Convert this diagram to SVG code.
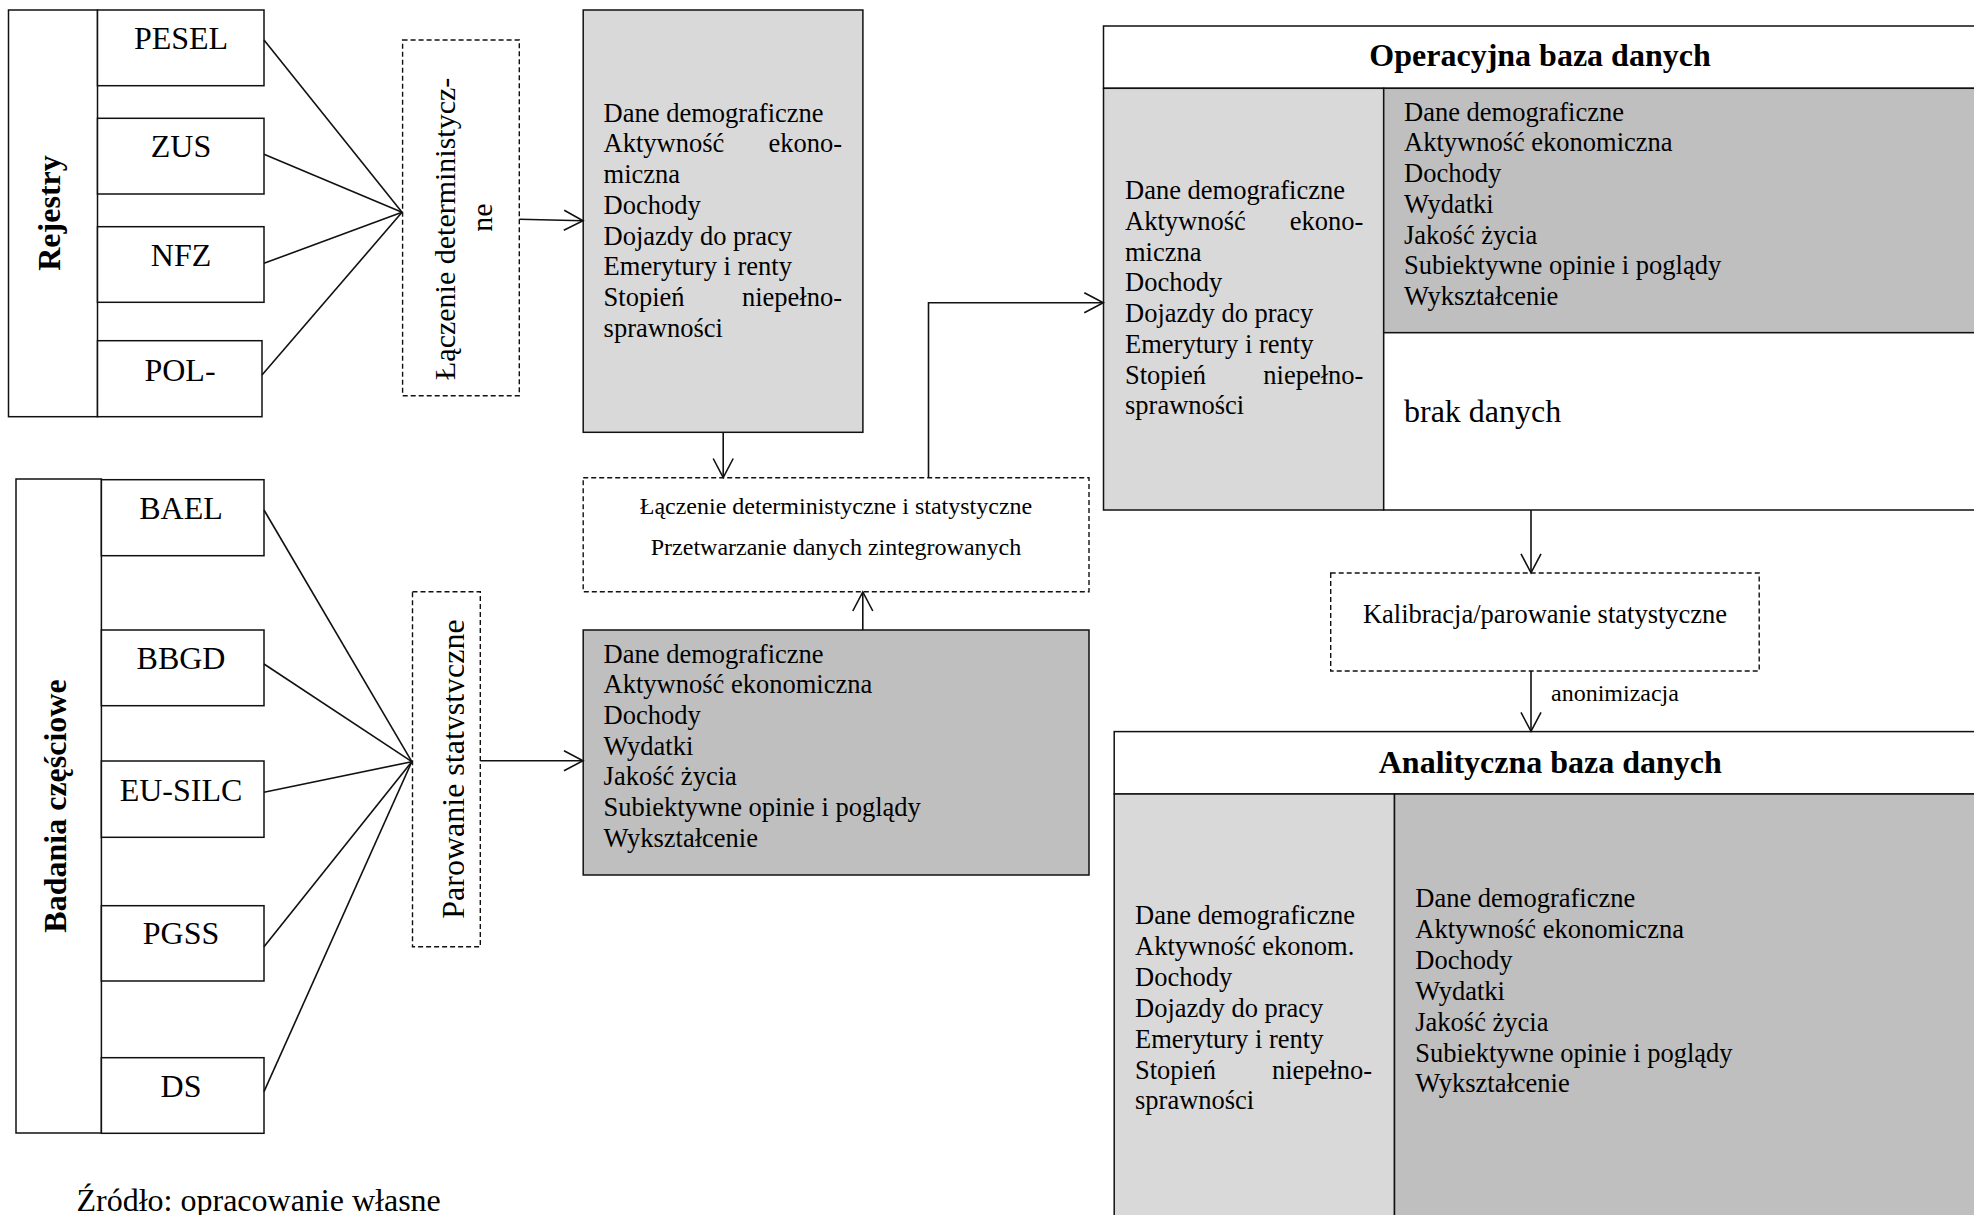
<svg xmlns="http://www.w3.org/2000/svg" width="1974" height="1215" viewBox="0 0 1974 1215">
  <style>
    .t { font-family: "Liberation Serif", "Times New Roman", serif; fill: #000; }
    .src { font-size: 32px; text-anchor: middle; }
    .it { font-size: 26.5px; }
    .b { font-weight: bold; }
    .box { fill: #fff; stroke: #111; stroke-width: 1.5; }
    .lg { fill: #d9d9d9; stroke: #111; stroke-width: 1.5; }
    .dg { fill: #bfbfbf; stroke: #111; stroke-width: 1.5; }
    .dash { fill: #fff; stroke: #111; stroke-width: 1.4; stroke-dasharray: 5 3; }
    .conn { fill: none; stroke: #111; stroke-width: 1.6; }
  </style>
  <defs>
    <marker id="arr" markerUnits="userSpaceOnUse" markerWidth="24" markerHeight="24" refX="20" refY="11" orient="auto">
      <path d="M1,1 L20,11 L1,21" fill="none" stroke="#111" stroke-width="1.6"/>
    </marker>
    <clipPath id="clipPar" clipPathUnits="userSpaceOnUse">
      <rect x="413" y="592" width="51.3" height="354"/>
    </clipPath>
  </defs>
  <rect width="1974" height="1215" fill="#fff"/>

  <!-- Registers -->
  <g id="rejestry">
    <rect class="box" x="8.5" y="10" width="89" height="406.7"/>
    <text class="t b src" transform="translate(60,213) rotate(-90)">Rejestry</text>
  </g>
  <g id="pesel">
    <rect class="box" x="97.5" y="10" width="166.5" height="75.7"/>
    <text class="t src" x="181" y="49.3">PESEL</text>
  </g>
  <g id="zus">
    <rect class="box" x="97.5" y="118.3" width="166.5" height="75.7"/>
    <text class="t src" x="181" y="156.7">ZUS</text>
  </g>
  <g id="nfz">
    <rect class="box" x="97.5" y="226.7" width="166.5" height="75.6"/>
    <text class="t src" x="181" y="265.7">NFZ</text>
  </g>
  <g id="pol">
    <rect class="box" x="97.5" y="340.7" width="164.5" height="76"/>
    <text class="t src" x="180" y="380.7">POL-</text>
  </g>

  <!-- Sample surveys -->
  <g id="badania">
    <rect class="box" x="16" y="479" width="85.4" height="654"/>
    <text class="t b src" transform="translate(66,806) rotate(-90)">Badania częściowe</text>
  </g>
  <g id="bael">
    <rect class="box" x="101.4" y="479.7" width="162.6" height="76"/>
    <text class="t src" x="181" y="519.3">BAEL</text>
  </g>
  <g id="bbgd">
    <rect class="box" x="101.4" y="630" width="162.6" height="75.7"/>
    <text class="t src" x="181" y="669.3">BBGD</text>
  </g>
  <g id="eusilc">
    <rect class="box" x="101.4" y="761" width="162.6" height="76.3"/>
    <text class="t src" x="181" y="800.7">EU-SILC</text>
  </g>
  <g id="pgss">
    <rect class="box" x="101.4" y="905.7" width="162.6" height="75.3"/>
    <text class="t src" x="181" y="944">PGSS</text>
  </g>
  <g id="ds">
    <rect class="box" x="101.4" y="1057.7" width="162.6" height="75.6"/>
    <text class="t src" x="181" y="1096.7">DS</text>
  </g>

  <!-- Processing steps -->
  <g id="laczenie-det">
    <rect class="dash" x="402.6" y="40" width="116.7" height="355.7"/>
    <text class="t" font-size="30" transform="translate(455,380) rotate(-90)">Łączenie deterministycz-</text>
    <text class="t" font-size="30" text-anchor="middle" transform="translate(492,217.5) rotate(-90)">ne</text>
  </g>
  <g id="parowanie">
    <rect class="dash" x="412.5" y="591.7" width="67.8" height="355"/>
    <g clip-path="url(#clipPar)">
      <text class="t src" transform="translate(464,769) rotate(-90)">Parowanie statystyczne</text>
    </g>
  </g>

  <!-- Register-based data -->
  <g id="dane-rejestry">
    <rect class="lg" x="583.2" y="10" width="279.7" height="422.3"/>
    <g class="t it">
      <text x="603.6" y="121.7">Dane demograficzne</text>
      <text x="603.6" y="152.4">Aktywność</text>
      <text x="842" y="152.4" text-anchor="end">ekono-</text>
      <text x="603.6" y="183.1">miczna</text>
      <text x="603.6" y="213.8">Dochody</text>
      <text x="603.6" y="244.5">Dojazdy do pracy</text>
      <text x="603.6" y="275.2">Emerytury i renty</text>
      <text x="603.6" y="305.9">Stopień</text>
      <text x="842" y="305.9" text-anchor="end">niepełno-</text>
      <text x="603.6" y="336.6">sprawności</text>
    </g>
  </g>

  <g id="laczenie-stat">
    <rect class="dash" x="583.2" y="477.7" width="505.8" height="114"/>
    <text class="t" font-size="24" text-anchor="middle" x="836" y="514">Łączenie deterministyczne i statystyczne</text>
    <text class="t" font-size="24" text-anchor="middle" x="836" y="555">Przetwarzanie danych zintegrowanych</text>
  </g>

  <!-- Survey-based data -->
  <g id="dane-badania">
    <rect class="dg" x="583.2" y="630" width="505.8" height="245"/>
    <g class="t it">
      <text x="603.6" y="662.5">Dane demograficzne</text>
      <text x="603.6" y="693.2">Aktywność ekonomiczna</text>
      <text x="603.6" y="723.9">Dochody</text>
      <text x="603.6" y="754.6">Wydatki</text>
      <text x="603.6" y="785.3">Jakość życia</text>
      <text x="603.6" y="816">Subiektywne opinie i poglądy</text>
      <text x="603.6" y="846.7">Wykształcenie</text>
    </g>
  </g>

  <!-- Operational database -->
  <g id="operacyjna">
    <rect class="box" x="1103.5" y="26" width="874" height="62.3"/>
    <text class="t b src" x="1540" y="66">Operacyjna baza danych</text>
    <rect class="lg" x="1103.5" y="88.3" width="280.2" height="421.7"/>
    <rect class="dg" x="1383.7" y="88.3" width="594" height="244.4"/>
    <rect class="box" x="1383.7" y="332.7" width="594" height="177.3"/>
    <g class="t it">
      <text x="1125" y="199.3">Dane demograficzne</text>
      <text x="1125" y="230">Aktywność</text>
      <text x="1363.4" y="230" text-anchor="end">ekono-</text>
      <text x="1125" y="260.7">miczna</text>
      <text x="1125" y="291.4">Dochody</text>
      <text x="1125" y="322.1">Dojazdy do pracy</text>
      <text x="1125" y="352.8">Emerytury i renty</text>
      <text x="1125" y="383.5">Stopień</text>
      <text x="1363.4" y="383.5" text-anchor="end">niepełno-</text>
      <text x="1125" y="414.2">sprawności</text>

      <text x="1404" y="120.7">Dane demograficzne</text>
      <text x="1404" y="151.4">Aktywność ekonomiczna</text>
      <text x="1404" y="182.1">Dochody</text>
      <text x="1404" y="212.8">Wydatki</text>
      <text x="1404" y="243.5">Jakość życia</text>
      <text x="1404" y="274.2">Subiektywne opinie i poglądy</text>
      <text x="1404" y="304.9">Wykształcenie</text>
    </g>
    <text class="t" font-size="32" x="1404" y="421.7">brak danych</text>
  </g>

  <g id="kalibracja">
    <rect class="dash" x="1330.7" y="573" width="428.5" height="98"/>
    <text class="t it" text-anchor="middle" x="1545" y="623">Kalibracja/parowanie statystyczne</text>
  </g>

  <!-- Analytical database -->
  <g id="analityczna">
    <rect class="box" x="1114.2" y="731.6" width="872" height="62.4"/>
    <text class="t b src" x="1550.3" y="773">Analityczna baza danych</text>
    <rect class="lg" x="1114.2" y="794" width="280.3" height="440"/>
    <rect class="dg" x="1394.5" y="794" width="592" height="440"/>
    <g class="t it">
      <text x="1135" y="924">Dane demograficzne</text>
      <text x="1135" y="954.9">Aktywność ekonom.</text>
      <text x="1135" y="985.8">Dochody</text>
      <text x="1135" y="1016.7">Dojazdy do pracy</text>
      <text x="1135" y="1047.6">Emerytury i renty</text>
      <text x="1135" y="1078.5">Stopień</text>
      <text x="1372" y="1078.5" text-anchor="end">niepełno-</text>
      <text x="1135" y="1109.4">sprawności</text>

      <text x="1415.3" y="907">Dane demograficzne</text>
      <text x="1415.3" y="937.9">Aktywność ekonomiczna</text>
      <text x="1415.3" y="968.8">Dochody</text>
      <text x="1415.3" y="999.7">Wydatki</text>
      <text x="1415.3" y="1030.6">Jakość życia</text>
      <text x="1415.3" y="1061.5">Subiektywne opinie i poglądy</text>
      <text x="1415.3" y="1092.4">Wykształcenie</text>
    </g>
  </g>

  <!-- Connectors -->
  <g id="connectors" class="conn">
    <line x1="264" y1="40" x2="402" y2="212.3"/>
    <line x1="264" y1="154.3" x2="402" y2="212.3"/>
    <line x1="264" y1="263.3" x2="402" y2="212.3"/>
    <line x1="262" y1="375" x2="402" y2="212.3"/>

    <line x1="264" y1="510" x2="411.8" y2="761.7"/>
    <line x1="264" y1="664" x2="411.8" y2="761.7"/>
    <line x1="264" y1="792.3" x2="411.8" y2="761.7"/>
    <line x1="264" y1="946.7" x2="411.8" y2="761.7"/>
    <line x1="264" y1="1091.7" x2="411.8" y2="761.7"/>

    <line x1="519.3" y1="219.3" x2="583" y2="220.7" marker-end="url(#arr)"/>
    <line x1="480.3" y1="760.7" x2="583" y2="760.7" marker-end="url(#arr)"/>
    <line x1="723.2" y1="432.3" x2="723.2" y2="477.5" marker-end="url(#arr)"/>
    <line x1="862.8" y1="630" x2="862.8" y2="592" marker-end="url(#arr)"/>
    <polyline points="928.5,477.7 928.5,302.7 1103.3,302.7" marker-end="url(#arr)"/>
    <line x1="1531" y1="510" x2="1531" y2="572.8" marker-end="url(#arr)"/>
    <line x1="1531" y1="671" x2="1531" y2="731.4" marker-end="url(#arr)"/>
  </g>
  <text class="t" font-size="24" x="1551" y="700.6">anonimizacja</text>

  <text class="t" font-size="32" x="76.5" y="1211">Źródło: opracowanie własne</text>
</svg>
